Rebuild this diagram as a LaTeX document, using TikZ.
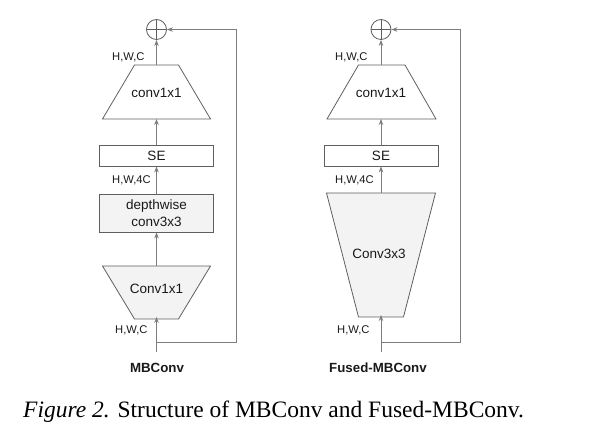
\documentclass[tikz,border=0pt]{standalone}
\usepackage{fontspec}
\setmainfont{Liberation Serif}
\setsansfont{Liberation Sans}
\usetikzlibrary{arrows.meta}
\definecolor{linec}{RGB}{125,125,125}
\definecolor{boxc}{RGB}{95,95,95}
\definecolor{fillc}{RGB}{243,243,243}
\definecolor{txtc}{RGB}{25,25,25}
\newcommand{\lblfont}{\sffamily\fontsize{11.2}{13}\selectfont}
\newcommand{\mainfont}{\sffamily\fontsize{13.5}{17}\selectfont}
\begin{document}
\begin{tikzpicture}[x=1pt,y=-1pt,
  shp/.style={draw=boxc, line width=0.8pt, line join=miter},
  gshp/.style={shp, fill=fillc},
  rbox/.style={shp, minimum width=114pt, inner sep=0pt, text=txtc, font=\mainfont, align=center},
  grbox/.style={rbox, fill=fillc},
  txt/.style={text=txtc, font=\mainfont, inner sep=0pt},
  lbl/.style={text=txtc, font=\lblfont, anchor=west, inner sep=0pt},
  ttl/.style={text=txtc, font=\sffamily\bfseries\fontsize{13.3}{16}\selectfont, anchor=base, inner sep=0pt},
  arr/.style={draw=linec, line width=0.8pt, -{Stealth[length=6pt,width=4.5pt]}},
  sumc/.style={circle, draw=boxc, line width=0.8pt, minimum size=20pt, inner sep=0pt}
]
\useasboundingbox (0,0) rectangle (590,430);

% ---------- MBConv ----------
\node[sumc] (c1) at (156.5,29.5) {};
\draw[draw=boxc, line width=0.8pt] (c1.north) -- (c1.south) (c1.west) -- (c1.east);

\draw[shp] (134.5,65) -- (178.5,65) -- (210.5,119) -- (102.5,119) -- cycle;
\coordinate (t1top) at (156.5,65);
\coordinate (t1bot) at (156.5,119);
\node[txt] (t1) at (156.5,93) {conv1x1};

\node[rbox, minimum height=21pt] (se1) at (156.5,155.5) {SE};
\node[grbox, minimum height=38pt] (dw1) at (156.5,213) {depthwise\\conv3x3};

\draw[gshp] (102.5,266) -- (210.5,266) -- (178.5,319) -- (134.5,319) -- cycle;
\coordinate (b1top) at (156.5,266);
\coordinate (b1bot) at (156.5,319);
\node[txt] (b1) at (156.5,289) {Conv1x1};

\coordinate (in1) at (156.5,352);
\coordinate (sp1) at (156.5,342);
\coordinate (cr1b) at (236,342);
\coordinate (cr1t) at (236,29.5);

\draw[arr] (t1top) -- (c1.south);
\draw[arr] (se1.north) -- (t1bot);
\draw[arr] (dw1.north) -- (se1.south);
\draw[arr] (b1top) -- (dw1.south);
\draw[arr] (in1) -- ([yshift=2pt]b1bot);
\draw[arr] (sp1) -- (cr1b) -- (cr1t) -- (c1.east);

\node[lbl] (l1a) at (112,57) {H,W,C};
\node[lbl] (l1b) at (112,180) {H,W,4C};
\node[lbl] (l1c) at (115,330) {H,W,C};
\node[ttl] (n1) at (157,372.5) {MBConv};

% ---------- Fused-MBConv ----------
\node[sumc] (c2) at (381,29.5) {};
\draw[draw=boxc, line width=0.8pt] (c2.north) -- (c2.south) (c2.west) -- (c2.east);

\draw[shp] (358.5,65) -- (405,65) -- (436,119) -- (327,119) -- cycle;
\coordinate (t2top) at (381,65);
\coordinate (t2bot) at (381,119);
\node[txt] (t2) at (381,93) {conv1x1};

\node[rbox, minimum height=21pt] (se2) at (381,155.5) {SE};

\draw[gshp] (326.5,193) -- (435.5,193) -- (403.5,317) -- (358.5,317) -- cycle;
\coordinate (b2top) at (381,193);
\coordinate (b2bot) at (381,317);
\node[txt] (b2) at (379,254) {Conv3x3};

\coordinate (in2) at (381,352);
\coordinate (sp2) at (381,342);
\coordinate (cr2b) at (460,342);
\coordinate (cr2t) at (460,29.5);

\draw[arr] (t2top) -- (c2.south);
\draw[arr] (se2.north) -- (t2bot);
\draw[arr] (b2top) -- (se2.south);
\draw[arr] (in2) -- ([yshift=2pt]b2bot);
\draw[arr] (sp2) -- (cr2b) -- (cr2t) -- (c2.east);

\node[lbl] (l2a) at (335,57) {H,W,C};
\node[lbl] (l2b) at (335,180) {H,W,4C};
\node[lbl] (l2c) at (337,330) {H,W,C};
\node[ttl] (n2) at (378,372.5) {Fused-MBConv};

% ---------- caption ----------
\node[anchor=base west, inner sep=0pt, text=black, font=\fontsize{23.5}{28}\selectfont] (cap) at (23,418) {\textit{Figure 2.} Structure of MBConv and Fused-MBConv.};
\end{tikzpicture}
\end{document}
